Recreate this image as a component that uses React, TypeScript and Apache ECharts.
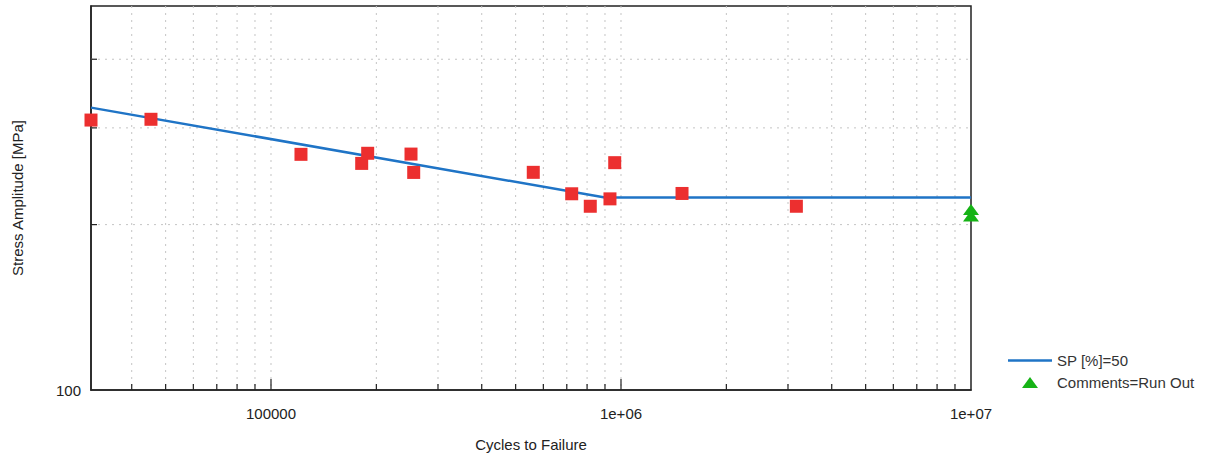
import React, { useEffect, useRef } from "react";
import * as echarts from "echarts";

// ---- data ----
const failureCycles = [30600, 45400, 121800, 181600, 188900, 251200, 255700, 561500, 723000, 817000, 930000, 959500, 1494000, 3170000];
const failureStress = [310, 311, 268.5, 258.5, 269.7, 268.8, 248.9, 249, 227.6, 216, 222.8, 259.3, 227.9, 216];

const runOutCycles = [1e7, 1e7];
const runOutStress = [213, 207.3];

const curveCycles = [30600, 900000, 1e7];
const curveStress = [326.6, 224, 224];

const xMin = 30600;
const xMax = 1e7;
const yMin = 100;
const yMax = 500;

const xTickValues = [1e5, 1e6, 1e7];
const xTickLabels = ["100000", "1e+06", "1e+07"];
const yTickValues = [100];
const yTickLabels = ["100"];

const xGridValues = [
  4e4, 5e4, 6e4, 7e4, 8e4, 9e4, 1e5,
  2e5, 3e5, 4e5, 5e5, 6e5, 7e5, 8e5, 9e5, 1e6,
  2e6, 3e6, 4e6, 5e6, 6e6, 7e6, 8e6, 9e6,
];
const xMajorValues = [1e5, 1e6];
const yGridValues = [200, 300, 400];

const curveName = "SP [%]=50";
const runOutName = "Comments=Run Out";
const xName = "Cycles to Failure";
const yName = "Stress Amplitude [MPa]";

const FONT = "'Liberation Sans', Arial, sans-serif";

function matchLabel(v: number, values: number[], labels: string[]) {
  for (let i = 0; i < values.length; i++) {
    if (Math.abs(Math.log10(v) - Math.log10(values[i])) < 1e-6) return labels[i];
  }
  return "";
}

export default function App() {
  const ref = useRef<HTMLDivElement>(null);
  useEffect(() => {
    if (!ref.current) return;
    const chart = echarts.init(ref.current, undefined, { renderer: "svg" });
    const gridStroke = "#c4c4c4";
    const option: any = {
      animation: false,
      backgroundColor: "#ffffff",
      textStyle: { fontFamily: FONT },
      grid: {
        left: 91,
        top: 6,
        right: 236,
        bottom: 67,
        show: true,
        borderColor: "#222",
        borderWidth: 1.5,
        backgroundColor: "transparent",
      },
      xAxis: {
        type: "log",
        logBase: 10,
        min: xMin,
        max: xMax,
        name: xName,
        nameLocation: "middle",
        nameGap: 47,
        nameTextStyle: { fontSize: 15, color: "#222", fontFamily: FONT },
        axisLine: { show: true, lineStyle: { color: "#222", width: 1.5 } },
        axisTick: { show: false },
        splitLine: { show: false },
        minorTick: { show: false },
        axisLabel: {
          margin: 16,
          fontSize: 15,
          color: "#222",
          fontFamily: FONT,
          formatter: (v: number) => matchLabel(v, xTickValues, xTickLabels),
        },
      },
      yAxis: {
        type: "log",
        logBase: 10,
        min: yMin,
        max: yMax,
        name: yName,
        nameLocation: "middle",
        nameGap: 66,
        nameTextStyle: { fontSize: 15, color: "#222", fontFamily: FONT },
        axisLine: { show: true, lineStyle: { color: "#222", width: 1.5 } },
        axisTick: { show: false },
        splitLine: { show: false },
        minorTick: { show: false },
        axisLabel: {
          margin: 10,
          fontSize: 15,
          color: "#222",
          fontFamily: FONT,
          formatter: (v: number) => matchLabel(v, yTickValues, yTickLabels),
        },
      },
      legend: [
        {
          data: [{ name: curveName, icon: "rect" }],
          left: 1003,
          top: 348,
          orient: "vertical",
          itemWidth: 44,
          itemHeight: 2.5,
          symbolKeepAspect: false,
          textStyle: { fontSize: 15, color: "#333", fontFamily: FONT },
        },
        {
          data: [{ name: runOutName, icon: "triangle" }],
          left: 1017,
          top: 370,
          orient: "vertical",
          itemWidth: 16,
          itemHeight: 11,
          symbolKeepAspect: false,
          textStyle: { fontSize: 15, color: "#333", fontFamily: FONT, padding: [0, 0, 0, 14] },
        },
      ],
      series: [
        {
          name: "vgrid",
          type: "custom",
          silent: true,
          z: 1,
          data: xGridValues.map((v) => [v, yMin]),
          encode: { x: 0, y: 1 },
          renderItem: (params: any, api: any) => {
            const cs = params.coordSys;
            const v = api.value(0);
            const x = api.coord([v, yMin])[0];
            const major = xMajorValues.some((m) => Math.abs(m - v) < 1e-6 * m);
            const bottom = cs.y + cs.height;
            return {
              type: "group",
              children: [
                {
                  type: "line",
                  shape: { x1: x, y1: cs.y, x2: x, y2: bottom },
                  style: { stroke: gridStroke, lineWidth: 1, lineDash: [2, 5] },
                },
                {
                  type: "line",
                  shape: { x1: x, y1: bottom, x2: x, y2: bottom - (major ? 11 : 6) },
                  style: { stroke: "#222", lineWidth: 1.2 },
                },
              ],
            };
          },
        },
        {
          name: "hgrid",
          type: "custom",
          silent: true,
          z: 1,
          data: yGridValues.map((v) => [xMin, v]),
          encode: { x: 0, y: 1 },
          renderItem: (params: any, api: any) => {
            const cs = params.coordSys;
            const v = api.value(1);
            const y = api.coord([xMin, v])[1];
            return {
              type: "group",
              children: [
                {
                  type: "line",
                  shape: { x1: cs.x, y1: y, x2: cs.x + cs.width, y2: y },
                  style: { stroke: gridStroke, lineWidth: 1, lineDash: [2, 5] },
                },
                {
                  type: "line",
                  shape: { x1: cs.x, y1: y, x2: cs.x + 6, y2: y },
                  style: { stroke: "#222", lineWidth: 1.2 },
                },
              ],
            };
          },
        },
        {
          name: curveName,
          type: "line",
          z: 3,
          symbol: "none",
          color: "#1f74c6",
          itemStyle: { color: "#1f74c6" },
          lineStyle: { color: "#1f74c6", width: 2.5 },
          data: curveCycles.map((c, i) => [c, curveStress[i]]),
        },
        {
          name: "Failures",
          type: "scatter",
          z: 4,
          clip: false,
          symbol: "rect",
          symbolSize: 13,
          itemStyle: { color: "#ec2f2f", opacity: 1 },
          data: failureCycles.map((c, i) => [c, failureStress[i]]),
        },
        {
          name: runOutName,
          type: "scatter",
          z: 5,
          clip: false,
          symbol: "triangle",
          symbolSize: [16, 11],
          itemStyle: { color: "#16b316", opacity: 1 },
          data: runOutCycles.map((c, i) => [c, runOutStress[i]]),
        },
      ],
    };
    chart.setOption(option);
    return () => chart.dispose();
  }, []);
  return (
    <div
      ref={ref}
      style={{ position: "fixed", left: 0, top: 0, width: 1207, height: 457 }}
    />
  );
}
